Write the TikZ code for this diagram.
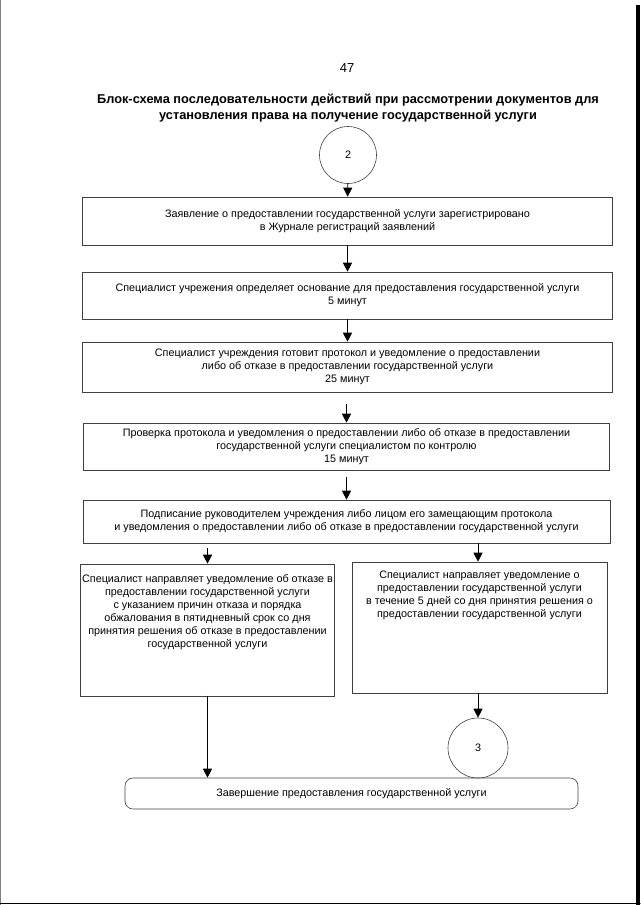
\documentclass[tikz,border=0pt]{standalone}
\usepackage{fontspec}
\setmainfont{Liberation Sans}
\usetikzlibrary{arrows.meta}

\begin{document}
\begin{tikzpicture}[x=1pt,y=-1pt,cap=round]
% Configurable parameters
\def\cx{347.5}
\def\boxw{530pt}
\def\loww{254pt}
\def\lowh{132pt}

% Styles
\tikzstyle{arrow}=[arrows={-Triangle[width=9pt,length=9pt]},line width=0.7pt]
\tikzstyle{stepbox}=[draw=black!75,line width=0.6pt,minimum width=\boxw,inner sep=0pt,align=center,font=\fontsize{10.8}{13}\selectfont]
\tikzstyle{lowbox}=[draw=black!75,line width=0.6pt,minimum width=\loww,minimum height=\lowh,inner sep=0pt]
\tikzstyle{lowtext}=[anchor=north,inner sep=0pt,align=center,font=\fontsize{10.8}{13}\selectfont]
\tikzstyle{linkcircle}=[draw=black!75,line width=0.6pt,circle,inner sep=0pt,font=\fontsize{10.8}{13}\selectfont]

\useasboundingbox (0,0) rectangle (640,905);

% Page edges of the scan
\draw[black!50,line width=0.8pt] (0.5,0) -- (0.5,905);
\draw[line width=1.2pt] (0,903.5) -- (640,903.5);
\fill (636,5) rectangle (640,905);

% Heading
\node[font=\fontsize{13}{15}\selectfont] (page) at (347,68) {47};
\node[align=center,font=\bfseries\fontsize{12.8}{16}\selectfont] (title) at (348,108)
  {Блок-схема последовательности действий при рассмотрении документов для\\
   установления права на получение государственной услуги};

% Main chain
\node[linkcircle,minimum size=57pt] (in) at (348,155) {2};
\node[stepbox,minimum height=48pt] (reg) at (\cx,221)
  {Заявление о предоставлении государственной услуги зарегистрировано\\
   в Журнале регистраций заявлений};
\node[stepbox,minimum height=47pt] (basis) at (\cx,295.5)
  {Специалист учрежения определяет основание для предоставления государственной услуги\\
   5 минут};
\node[stepbox,minimum height=50pt] (prot) at (\cx,367)
  {Специалист учреждения готовит протокол и уведомление о предоставлении\\
   либо об отказе в предоставлении государственной услуги\\
   25 минут};
\node[stepbox,minimum height=47pt,minimum width=526pt] (check) at (346.5,446.5)
  {Проверка протокола и уведомления о предоставлении либо об отказе в предоставлении\\
   государственной услуги специалистом по контролю\\
   15 минут};
\node[stepbox,minimum height=43pt,minimum width=527pt] (sign) at (346.5,521.5)
  {Подписание руководителем учреждения либо лицом его замещающим протокола\\
   и уведомления о предоставлении либо об отказе в предоставлении государственной услуги};

% Two branches
\node[lowbox] (refuse) at (207.5,630) {};
\node[lowtext] (refusetxt) at (207.5,574)
  {Специалист направляет уведомление об отказе в\\
   предоставлении государственной услуги\\
   с указанием причин отказа и порядка\\
   обжалования в пятидневный срок со дня\\
   принятия решения об отказе в предоставлении\\
   государственной услуги};
\node[lowbox,minimum height=131pt,minimum width=255pt] (grant) at (479.5,627.5) {};
\node[lowtext] (granttxt) at (479.5,571)
  {Специалист направляет уведомление о\\
   предоставлении государственной услуги\\
   в течение 5 дней со дня принятия решения о\\
   предоставлении государственной услуги};
\node[linkcircle,minimum size=60pt] (out) at (478,748) {3};
\node[stepbox,rounded corners=8pt,minimum width=453pt,minimum height=31pt] (finish) at (351.5,793.5)
  {Завершение предоставления государственной услуги};

% Connectors
\draw[arrow] (in) -- (reg);
\draw[arrow] (reg) -- (basis);
\draw[arrow] (basis) -- (prot);
\draw[arrow,shorten <=12pt] (prot.south -| check.north) -- (check.north);
\draw[arrow,shorten <=7pt] (check.south -| sign.north) -- (sign.north);
\draw[arrow,shorten <=5pt] (sign.south -| refuse.north) -- (refuse.north);
\draw[arrow] (sign.south -| out.north) -- (out.north |- grant.north);
\draw[arrow] (grant.south -| out.north) -- (out.north);
\draw[arrow] (refuse.south) -- (refuse.south |- finish.north);
\end{tikzpicture}
\end{document}
